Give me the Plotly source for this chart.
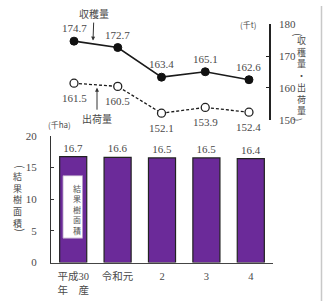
import plotly.graph_objects as go

# ---- data ----
categories = ["平成30<br>年　産", "令和元", "2", "3", "4"]
harvest = [174.7, 172.7, 163.4, 165.1, 162.6]      # 収穫量 (千t)
shipment = [161.5, 160.5, 152.1, 153.9, 152.4]     # 出荷量 (千t)
area = [16.7, 16.6, 16.5, 16.5, 16.4]              # 結果樹面積 (千ha)
y2_ticks = [150, 160, 170, 180]
y_ticks = [0, 5, 10, 15, 20]

W, H = 323, 307
FONT = "Liberation Serif, Noto Sans CJK JP, serif"
CJK = "Noto Sans CJK JP"
TXT = "#4a4a4a"
PURPLE = "#6b2a99"

def px(x):
    return x / W

def py(y):
    return 1 - y / H

xs = list(range(len(categories)))

fig = go.Figure()

fig.add_trace(go.Bar(
    x=xs, y=area, width=0.61,
    marker=dict(color=PURPLE, line=dict(color="#222", width=1.2)),
    text=[f"{v:.1f}" for v in area], textposition="outside",
    textfont=dict(family=FONT, size=11, color=TXT),
    cliponaxis=False, xaxis="x", yaxis="y", showlegend=False,
))

fig.add_trace(go.Scatter(
    x=xs, y=harvest, mode="lines+markers",
    line=dict(color="#1a1a1a", width=1.6),
    marker=dict(size=8, color="#111", line=dict(color="#111", width=1)),
    cliponaxis=False, xaxis="x2", yaxis="y2", showlegend=False,
))

fig.add_trace(go.Scatter(
    x=xs, y=shipment, mode="lines+markers",
    line=dict(color="#1a1a1a", width=1.3, dash="3px,2px"),
    marker=dict(size=8, color="white", line=dict(color="#222", width=1.3)),
    cliponaxis=False, xaxis="x2", yaxis="y2", showlegend=False,
))

ann = []
# point labels (anchored on the data, offset in pixels)
for i, v in enumerate(harvest):
    ann.append(dict(text=f"{v:.1f}", x=i, y=v, xref="x2", yref="y2",
                    yshift=13, showarrow=False,
                    font=dict(family=FONT, size=11, color=TXT)))
for i, v in enumerate(shipment):
    ann.append(dict(text=f"{v:.1f}", x=i, y=v, xref="x2", yref="y2",
                    yshift=-15, showarrow=False,
                    font=dict(family=FONT, size=11, color=TXT)))
# unit labels
ann.append(dict(text="(千t)", x=px(258), y=py(11), xref="paper", yref="paper",
                showarrow=False, font=dict(family=CJK, size=8, color=TXT)))
ann.append(dict(text="(千ha)", x=px(46), y=py(123), xref="paper", yref="paper",
                showarrow=False, font=dict(family=CJK, size=8, color=TXT)))
# callouts
ann.append(dict(text="収穫量", x=px(93), y=py(36), xref="paper", yref="paper",
                ax=1, ay=-27, showarrow=True, arrowhead=2, arrowsize=0.8,
                arrowwidth=1, arrowcolor="#333", standoff=0,
                font=dict(family=CJK, size=10, color=TXT)))
ann.append(dict(text="出荷量", x=px(97), y=py(85), xref="paper", yref="paper",
                ax=0, ay=31, showarrow=True, arrowhead=2, arrowsize=0.8,
                arrowwidth=1, arrowcolor="#333", standoff=0,
                font=dict(family=CJK, size=10, color=TXT)))

def vertical(text, xc, yc, size, color=TXT):
    ann.append(dict(text="<br>".join(text), x=px(xc), y=py(yc),
                    xref="paper", yref="paper", showarrow=False,
                    yanchor="middle", borderpad=0,
                    font=dict(family=CJK, size=size, color=color)))

def paren(ch, xc, yc, size, color=TXT):
    ann.append(dict(text=ch, x=px(xc), y=py(yc), xref="paper", yref="paper",
                    showarrow=False, textangle=90, borderpad=0,
                    font=dict(family=CJK, size=size, color=color)))

# right axis title (収穫量・出荷量)
vertical("収穫量・出荷量", 307, 72, 9)
paren("(", 307, 27, 10)
paren(")", 307, 118, 10)
# left axis title (結果樹面積)
vertical("結果樹面積", 12, 201.5, 9)
paren("(", 12, 167, 10.5)
paren(")", 12, 236, 10.5)
# label box inside first bar
vertical("結果樹面積", 71.5, 212, 8, "#555")

fig.update_layout(
    width=W, height=H, margin=dict(l=0, r=0, t=0, b=0),
    paper_bgcolor="white", plot_bgcolor="rgba(0,0,0,0)",
    annotations=ann,
    xaxis=dict(domain=[px(51), px(273)], range=[-0.5, 4.5],
               tickvals=xs, ticktext=categories, showline=True,
               linecolor="#444", linewidth=1.3, ticks="", showgrid=False,
               zeroline=False, ticklabelstandoff=4,
               tickfont=dict(family=FONT, size=10.5, color=TXT)),
    yaxis=dict(domain=[py(267), py(135)], range=[0, 20], tickvals=y_ticks,
               showline=True, linecolor="#333", linewidth=1.3,
               ticks="inside", ticklen=3, tickcolor="#333", showgrid=False,
               zeroline=False, ticklabelstandoff=11,
               tickfont=dict(family=FONT, size=11, color=TXT)),
    xaxis2=dict(domain=[px(51), px(273)], range=[-0.526, 4.549],
                anchor="y2", visible=False),
    yaxis2=dict(domain=[py(118.5), py(19)], range=[150, 180],
                tickvals=y2_ticks, side="right", anchor="free",
                position=px(270),
                showline=True, linecolor="#222", linewidth=1.5,
                ticks="inside", ticklen=3, tickcolor="#222", showgrid=False,
                zeroline=False, ticklabelstandoff=6,
                tickfont=dict(family=FONT, size=11, color=TXT)),
    shapes=[
        dict(type="rect", xref="x", yref="y", x0=-0.23, x1=0.21, y0=3.85, y1=13.7,
             fillcolor="white", line=dict(color="#b49ac4", width=0.8), layer="above"),
        dict(type="line", xref="paper", yref="paper", x0=px(321.5), x1=px(321.5),
             y0=0, y1=1, line=dict(color="#c8c8c8", width=1.5)),
    ],
)

fig.write_html("out.html")
